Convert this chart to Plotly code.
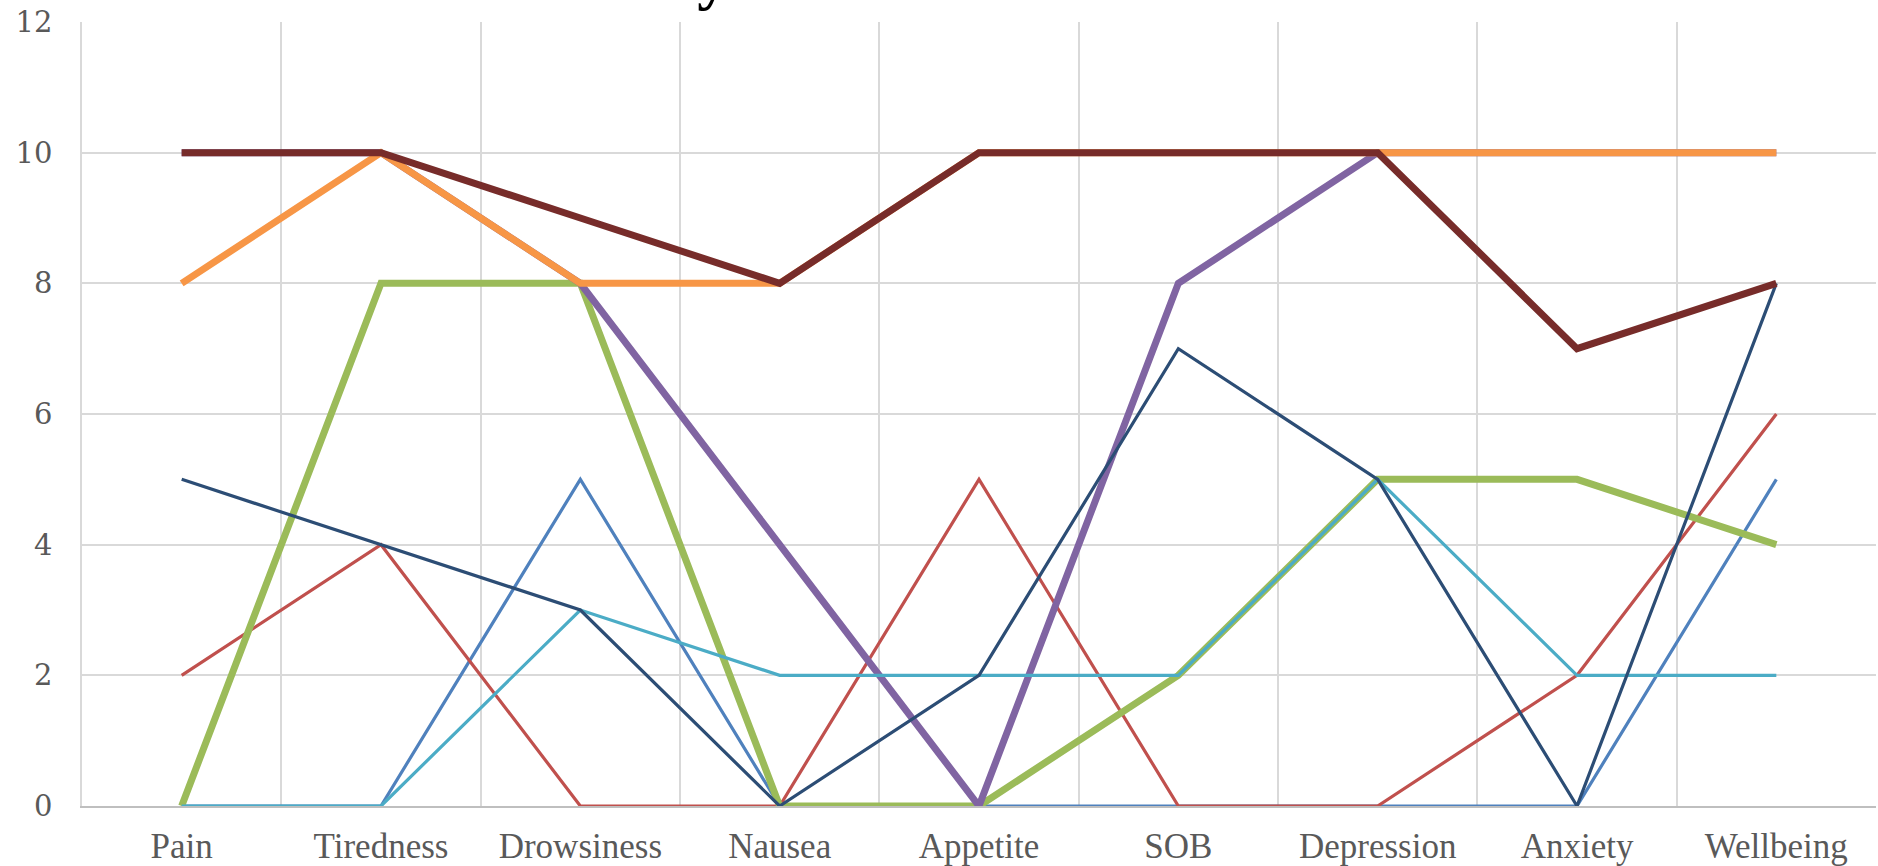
import plotly.graph_objects as go

# ESAS symptom items on the category axis
symptoms = ["Pain", "Tiredness", "Drowsiness", "Nausea", "Appetite",
            "SOB", "Depression", "Anxiety", "Wellbeing"]

# Scores per assessment (0-10 scale)
score_blue = [0, 0, 5, 0, 0, 0, 0, 0, 5]
score_red = [2, 4, 0, 0, 5, 0, 0, 2, 6]
score_green = [0, 8, 8, 0, 0, 2, 5, 5, 4]
score_purple = [10, 10, 8, 4, 0, 8, 10, 10, 10]
score_aqua = [0, 0, 3, 2, 2, 2, 5, 2, 2]
score_orange = [8, 10, 8, 8, 10, 10, 10, 10, 10]
score_navy = [5, 4, 3, 0, 2, 7, 5, 0, 8]
score_maroon = [10, 10, 9, 8, 10, 10, 10, 7, 8]

y_ticks = [0, 2, 4, 6, 8, 10, 12]

series = [
    ("Assessment 1", score_blue, "#4F81BD", 3.2),
    ("Assessment 2", score_red, "#C0504D", 3.2),
    ("Assessment 3", score_green, "#9BBB59", 7),
    ("Assessment 4", score_purple, "#8064A2", 7),
    ("Assessment 5", score_aqua, "#4BACC6", 3.2),
    ("Assessment 6", score_orange, "#F79646", 7),
    ("Assessment 7", score_navy, "#2C4D75", 3.2),
    ("Assessment 8", score_maroon, "#772C2A", 7),
]

SERIF = "'Liberation Serif', 'DejaVu Serif', serif"

fig = go.Figure()
for name, vals, color, width in series:
    fig.add_trace(go.Scatter(
        x=symptoms, y=vals, name=name, mode="lines",
        line=dict(color=color, width=width),
        hoverinfo="skip",
    ))

fig.update_layout(
    width=1878, height=866,
    margin=dict(l=82, r=2, t=22, b=60, autoexpand=False),
    paper_bgcolor="white", plot_bgcolor="white",
    showlegend=False,
    font=dict(family=SERIF),
    xaxis=dict(
        type="category", categoryorder="array", categoryarray=symptoms,
        range=[-0.5, 8.5], tickson="boundaries", automargin=False,
        showgrid=True, gridcolor="#D9D9D9", gridwidth=1.5,
        showline=True, linecolor="#BFBFBF", linewidth=1.5, mirror=False,
        ticks="", ticklabelstandoff=8,
        tickfont=dict(family=SERIF, size=35, color="#595959"),
        zeroline=False, fixedrange=True,
    ),
    yaxis=dict(
        range=[0, 12], tickvals=y_ticks, ticktext=[str(v) for v in y_ticks],
        automargin=False,
        showgrid=True, gridcolor="#D9D9D9", gridwidth=1.5,
        showline=True, linecolor="#D9D9D9", linewidth=1.5,
        ticks="", ticklabelstandoff=22,
        tickfont=dict(family="'DejaVu Serif', serif", size=29, color="#595959"),
        zeroline=False, fixedrange=True,
    ),
    annotations=[dict(
        text="<b>ESAS Summary</b>", xref="paper", yref="paper",
        x=(730 - 82) / 1794, xanchor="right",
        y=1.0, yanchor="bottom", yshift=9,
        showarrow=False,
        font=dict(family=SERIF, size=62, color="#000000"),
    )],
)

fig.write_html("out.html")
